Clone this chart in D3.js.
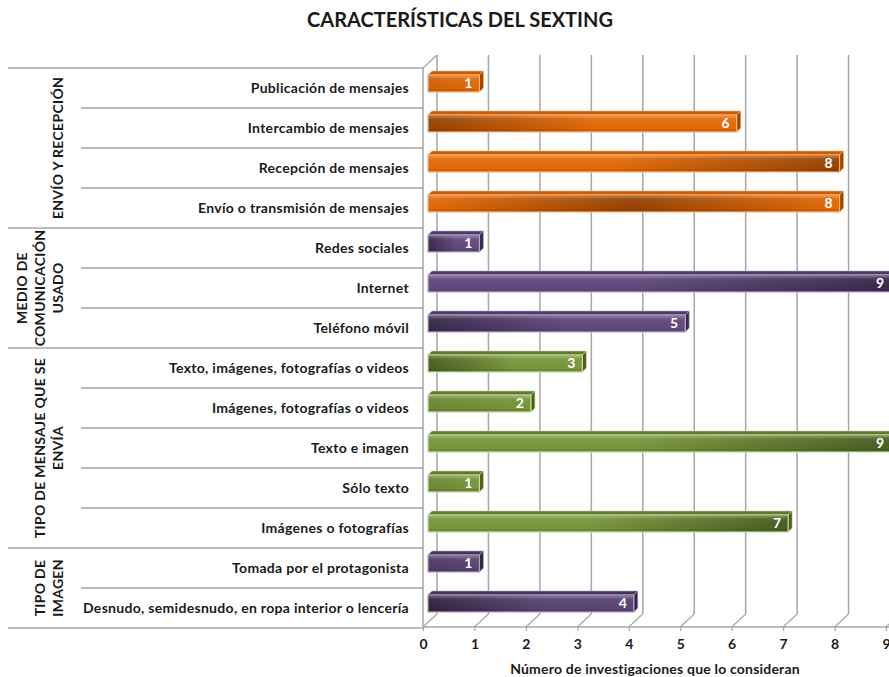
<!DOCTYPE html>
<html>
<head>
<meta charset="UTF-8">
<title>Características del sexting</title>
<script src="https://d3js.org/d3.v7.min.js"></script>
<style>
  body { margin: 0; background: #fff; }
  text { font-family: Lato, "Open Sans", sans-serif; font-weight: bold; }
</style>
</head>
<body>
<div id="chart"></div>
<script>
// data
var categories = [
  "Publicación de mensajes",
  "Intercambio de mensajes",
  "Recepción de mensajes",
  "Envío o transmisión de mensajes",
  "Redes sociales",
  "Internet",
  "Teléfono móvil",
  "Texto, imágenes, fotografías o videos",
  "Imágenes, fotografías o videos",
  "Texto e imagen",
  "Sólo texto",
  "Imágenes o fotografías",
  "Tomada por el protagonista",
  "Desnudo, semidesnudo, en ropa interior o lencería"
];
var values = [1, 6, 8, 8, 1, 9, 5, 3, 2, 9, 1, 7, 1, 4];
var groupNames = [
  ["ENVÍO Y RECEPCIÓN"],
  ["MEDIO DE", "COMUNICACIÓN", "USADO"],
  ["TIPO DE MENSAJE QUE SE", "ENVÍA"],
  ["TIPO DE", "IMAGEN"]
];
var groupSizes = [4, 3, 5, 2];
var xTicks = [0, 1, 2, 3, 4, 5, 6, 7, 8, 9];

// look
var palette = [
  { light: "#e46c0a", dark: "#974505", top: "#c85c08", edge: "#fbb57a" },
  { light: "#624b7e", dark: "#3a2b4c", top: "#4e3c66", edge: "#b9a8cf" },
  { light: "#7a973e", dark: "#4a5e22", top: "#5f7a2e", edge: "#c7da9f" },
  { light: "#5a4574", dark: "#33263f", top: "#45355a", edge: "#b3a2c7" }
];
// shading of each bar, as Excel drew them
var shade = ["flat", "leftDark", "rightDark", "centerDark",
             "leftDark", "rightDark", "leftDark",
             "leftDark", "flat", "rightDark", "flat", "rightDark",
             "flat", "leftDark"];

var W = 889, H = 677;
var svg = d3.select("#chart").append("svg")
    .attr("width", W).attr("height", H);

var x = d3.scaleLinear().domain([0, 9]).range([423, 886]);
var y = d3.scaleBand().domain(categories).range([68, 628]);
var dx = 14, dy = -13;     // depth of the back wall
var bx = 4, by = -4;       // depth of one bar
var grid = "#a6a6a6";
var ink = "#1a1a1a";

// which group each category belongs to
var groupOf = [];
groupSizes.forEach(function (n, g) { for (var i = 0; i < n; i++) groupOf.push(g); });

// title
svg.append("text")
    .attr("x", 460).attr("y", 27)
    .attr("text-anchor", "middle")
    .attr("fill", ink)
    .style("font-size", "20px")
    .text("CARACTERÍSTICAS DEL SEXTING");

// back wall grid
svg.append("g").selectAll("line")
    .data(xTicks)
    .enter().append("line")
    .attr("x1", function (d) { return x(d) + dx; })
    .attr("x2", function (d) { return x(d) + dx; })
    .attr("y1", 68 + dy)
    .attr("y2", 627 + dy)
    .attr("stroke", grid).attr("stroke-width", 1.5);

// floor diagonals
svg.append("g").selectAll("line")
    .data(xTicks)
    .enter().append("line")
    .attr("x1", function (d) { return x(d); })
    .attr("x2", function (d) { return x(d) + dx; })
    .attr("y1", 627)
    .attr("y2", 627 + dy)
    .attr("stroke", grid).attr("stroke-width", 1.2);

// left wall
svg.append("line")
    .attr("x1", x(0)).attr("x2", x(0)).attr("y1", 68).attr("y2", 627)
    .attr("stroke", grid).attr("stroke-width", 1.5);
svg.append("line")
    .attr("x1", x(0)).attr("x2", x(0) + dx).attr("y1", 68).attr("y2", 68 + dy)
    .attr("stroke", grid).attr("stroke-width", 1.2);

// table lines on the left
var bounds = d3.range(categories.length + 1);
var groupStarts = [0];
groupSizes.reduce(function (acc, n) { groupStarts.push(acc + n); return acc + n; }, 0);
svg.append("g").selectAll("line")
    .data(bounds)
    .enter().append("line")
    .attr("x1", function (i) { return groupStarts.indexOf(i) >= 0 ? 8 : 81; })
    .attr("x2", x(0))
    .attr("y1", function (i) { return 68 + i * y.step(); })
    .attr("y2", function (i) { return 68 + i * y.step(); })
    .attr("stroke", grid).attr("stroke-width", 1.5);

// x axis
var axis = svg.append("g")
    .attr("transform", "translate(0,627)")
    .call(d3.axisBottom(x).tickValues(xTicks).tickSize(4).tickSizeOuter(0).tickPadding(8));
axis.select(".domain").attr("stroke", grid).attr("stroke-width", 1.5)
    .attr("d", "M" + x(0) + ",0H" + W);
axis.selectAll(".tick line").attr("stroke", grid).attr("stroke-width", 1.2);
axis.selectAll(".tick text")
    .attr("fill", ink)
    .style("font-size", "14px")
    .style("font-family", "Lato, sans-serif")
    .style("font-weight", "bold");

svg.append("text")
    .attr("x", 655).attr("y", 674)
    .attr("text-anchor", "middle")
    .style("font-size", "14px")
    .style("letter-spacing", "0.2px")
    .attr("fill", ink)
    .text("Número de investigaciones que lo consideran");

// category labels
svg.append("g").selectAll("text")
    .data(categories)
    .enter().append("text")
    .attr("x", 409)
    .attr("y", function (d) { return y(d) + y.bandwidth() / 2 + 5; })
    .attr("text-anchor", "end")
    .style("font-size", "14px")
    .style("letter-spacing", "0.3px")
    .attr("fill", ink)
    .text(function (d) { return d; });

// group labels, rotated
groupNames.forEach(function (lines, g) {
  var first = categories[groupStarts[g]];
  var top = y(first);
  var bottom = top + groupSizes[g] * y.step();
  var cy = (top + bottom) / 2;
  lines.forEach(function (line, i) {
    var cx = 57 - (lines.length - 1 - i) * 18;
    svg.append("text")
        .attr("transform", "translate(" + cx + "," + cy + ") rotate(-90)")
        .attr("text-anchor", "middle")
        .attr("dominant-baseline", "central")
        .style("font-size", "14px")
        .style("letter-spacing", "0.3px")
        .attr("fill", ink)
        .text(line);
  });
});

// gradients
var defs = svg.append("defs");
categories.forEach(function (c, i) {
  var p = palette[groupOf[i]];
  var stops;
  if (shade[i] === "leftDark") stops = [[0, p.dark], [0.55, p.light], [1, p.light]];
  else if (shade[i] === "rightDark") stops = [[0, p.light], [0.45, p.light], [1, p.dark]];
  else if (shade[i] === "centerDark") stops = [[0, p.light], [0.5, p.dark], [1, p.light]];
  else stops = [[0, d3.interpolateRgb(p.light, p.dark)(0.25)], [1, p.light]];
  var gr = defs.append("linearGradient").attr("id", "g" + i)
      .attr("x1", "0").attr("x2", "1").attr("y1", "0").attr("y2", "0");
  stops.forEach(function (s) {
    gr.append("stop").attr("offset", s[0]).attr("stop-color", s[1]);
  });
});
var gloss = defs.append("linearGradient").attr("id", "gloss")
    .attr("x1", "0").attr("x2", "0").attr("y1", "0").attr("y2", "1");
gloss.append("stop").attr("offset", 0).attr("stop-color", "#fff").attr("stop-opacity", 0.28);
gloss.append("stop").attr("offset", 0.2).attr("stop-color", "#fff").attr("stop-opacity", 0.05);
gloss.append("stop").attr("offset", 0.8).attr("stop-color", "#000").attr("stop-opacity", 0.0);
gloss.append("stop").attr("offset", 1).attr("stop-color", "#000").attr("stop-opacity", 0.15);

// bars
var bars = svg.append("g").selectAll("g")
    .data(categories)
    .enter().append("g");

function x0() { return x(0) + 5; }
function x1(i) { return x(values[i]) + 5; }
function yTop(d) { return y(d) + 7; }
var faceH = 17;

bars.append("path")  // top face
    .attr("d", function (d, i) {
      var a = x0(), b = x1(i), t = yTop(d);
      return "M" + a + "," + t + "L" + (a + bx) + "," + (t + by) +
             "L" + (b + bx) + "," + (t + by) + "L" + b + "," + t + "Z";
    })
    .attr("fill", function (d, i) { return palette[groupOf[i]].top; })
    .attr("stroke", function (d, i) { return palette[groupOf[i]].edge; })
    .attr("stroke-width", 0.6);

bars.append("path")  // side face
    .attr("d", function (d, i) {
      var b = x1(i), t = yTop(d);
      return "M" + b + "," + t + "L" + (b + bx) + "," + (t + by) +
             "L" + (b + bx) + "," + (t + by + faceH) + "L" + b + "," + (t + faceH) + "Z";
    })
    .attr("fill", function (d, i) { return palette[groupOf[i]].dark; })
    .attr("stroke", function (d, i) { return palette[groupOf[i]].edge; })
    .attr("stroke-width", 0.6);

bars.append("rect")  // front face
    .attr("x", x0())
    .attr("y", function (d) { return yTop(d); })
    .attr("width", function (d, i) { return x1(i) - x0(); })
    .attr("height", faceH)
    .attr("fill", function (d, i) { return "url(#g" + i + ")"; })
    .attr("stroke", function (d, i) { return palette[groupOf[i]].edge; })
    .attr("stroke-width", 1.2);

bars.append("rect")
    .attr("x", x0() + 1)
    .attr("y", function (d) { return yTop(d) + 1; })
    .attr("width", function (d, i) { return x1(i) - x0() - 2; })
    .attr("height", faceH - 2)
    .attr("fill", "url(#gloss)");

bars.append("text")
    .attr("x", function (d, i) { return x1(i) - 7; })
    .attr("y", function (d) { return yTop(d) + 13; })
    .attr("text-anchor", "end")
    .attr("fill", "#fff")
    .style("font-size", "14px")
    .text(function (d, i) { return values[i]; });
</script>
</body>
</html>
